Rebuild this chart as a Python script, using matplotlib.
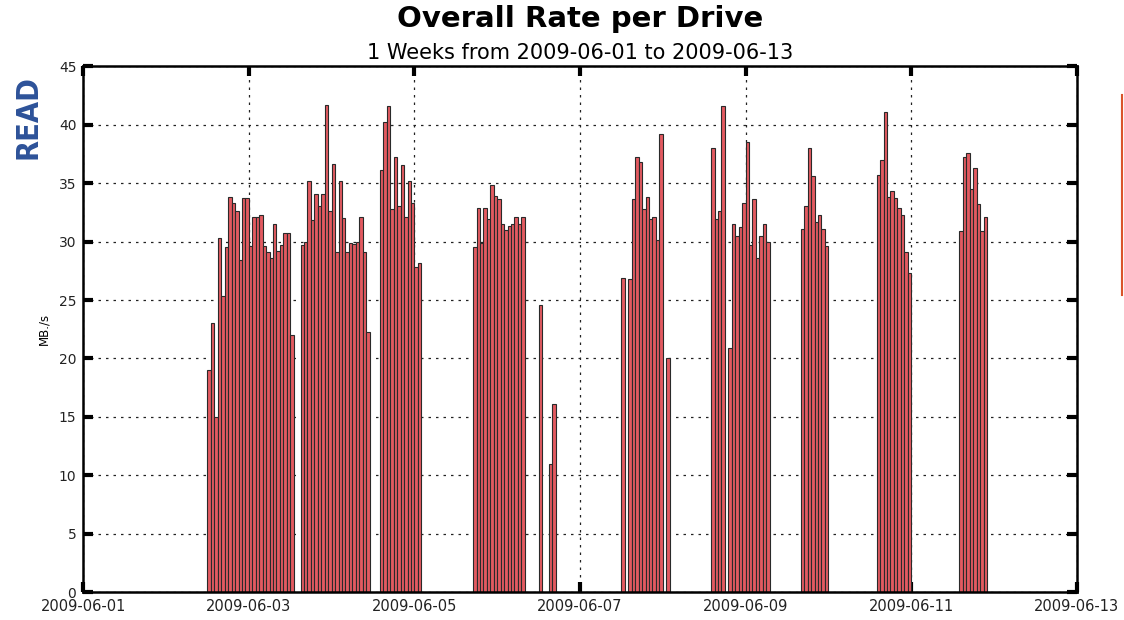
import numpy as np
import pandas as pd
import matplotlib
matplotlib.use("Agg")
import matplotlib.pyplot as plt
import matplotlib.dates as mdates
from matplotlib.lines import Line2D
from matplotlib import font_manager

# ---- data (hourly rates, MB/s); NaN = no data in that hour ----
nan = np.nan
group_starts = ['2009-06-02 12:00', '2009-06-03 15:00', '2009-06-04 14:00',
                '2009-06-05 17:00', '2009-06-06 12:00', '2009-06-07 12:00',
                '2009-06-08 14:00', '2009-06-09 16:00', '2009-06-10 14:00',
                '2009-06-11 14:00']
g1 = [19.0, 23.0, 15.0, 30.3, 25.3, 29.5, 33.8, 33.3, 32.6, 28.4, 33.7, 33.7, 29.6,
      32.1, 32.1, 32.3, 29.6, 29.1, 28.6, 31.5, 29.2, 29.7, 30.7, 30.7, 22.0]
g2 = [29.7, 30.0, 35.2, 31.8, 34.1, 33.0, 34.1, 41.7, 32.6, 36.6, 29.1, 35.2, 32.0,
      29.1, 29.9, 29.8, 30.0, 32.1, 29.1, 22.3]
g3 = [36.1, 40.2, 41.6, 32.8, 37.2, 33.0, 36.5, 32.1, 35.2, 33.3, 27.8, 28.2]
g4 = [29.5, 32.9, 29.9, 32.9, 31.9, 34.8, 33.9, 33.6, 31.5, 31.0, 31.3, 31.5, 32.1,
      31.5, 32.1]
g5 = [24.6, nan, nan, 11.0, 16.1]
g6 = [26.9, nan, 26.8, 33.6, 37.2, 36.8, 32.8, 33.8, 31.9, 32.1, 30.1, 39.2, nan, 20.0]
g7 = [38.0, 31.9, 32.6, 41.6, nan, 20.9, 31.5, 30.5, 31.2, 33.3, 38.5, 29.7, 33.6,
      28.6, 30.5, 31.5, 30.0]
g8 = [31.1, 33.0, 38.0, 35.6, 31.7, 32.3, 31.1, 29.6]
g9 = [35.7, 37.0, 41.1, 33.8, 34.3, 33.7, 32.9, 32.3, 29.1, 27.3]
g10 = [30.9, 37.2, 37.6, 34.5, 36.3, 33.2, 30.9, 32.1]
groups = [g1, g2, g3, g4, g5, g6, g7, g8, g9, g10]

x_start, x_end = '2009-06-01', '2009-06-13'
title = "Overall Rate per Drive"
subtitle = "1 Weeks from 2009-06-01 to 2009-06-13"
ylabel = "MB./s"
side_label = "READ"

# ---- assemble series ----
times, vals = [], []
for st, g in zip(group_starts, groups):
    t = pd.date_range(st, periods=len(g), freq='h')
    for ti, v in zip(t, g):
        if not np.isnan(v):
            times.append(ti.to_pydatetime())
            vals.append(v)

fig = plt.figure(figsize=(11.24, 6.2), dpi=100)
ax = fig.add_axes([0.0741, 0.0444, 0.8838, 0.8491])

ax.bar(times, vals, width=1/24, align='edge', color='#e35a60',
       edgecolor='#2a2a2a', linewidth=0.8, zorder=3)

ax.set_xlim(pd.Timestamp(x_start), pd.Timestamp(x_end))
ax.set_ylim(0, 45)
ax.set_yticks(np.arange(0, 46, 5))
ax.xaxis.set_major_locator(mdates.DayLocator(interval=2))
ax.xaxis.set_major_formatter(mdates.DateFormatter('%Y-%m-%d'))

ax.grid(True, which='major', color='#222222', linestyle=(0, (2, 4)), linewidth=0.9, zorder=1)
for s in ax.spines.values():
    s.set_linewidth(1.8)
    s.set_zorder(5)
ax.tick_params(axis='both', which='major', direction='in', length=7, width=3,
               top=True, right=True, colors='black', labelcolor='#222222')
ax.tick_params(axis='x', pad=5, labelsize=10.5)
ax.tick_params(axis='y', pad=5, labelsize=10)

ax.set_ylabel(ylabel, fontsize=8.5, labelpad=6)
fig.text(0.5165, 0.970, title, ha='center', va='center', fontsize=21, fontweight='bold')
fig.text(0.5165, 0.915, subtitle, ha='center', va='center', fontsize=15)

# condensed bold face for the side label if present
names = {f.name for f in font_manager.fontManager.ttflist}
side_kw = dict(fontweight='bold')
if 'Liberation Sans Narrow' in names:
    side_kw.update(family=['Liberation Sans Narrow', 'DejaVu Sans'], fontsize=28)
else:
    side_kw.update(family=['DejaVu Sans'], fontstretch='condensed', fontsize=22)
fig.text(0.025, 0.811, side_label, rotation=90, ha='center', va='center',
         color='#2d5299', **side_kw)

fig.add_artist(Line2D([0.9985, 0.9985], [1 - 95/620, 1 - 295/620], color='#d9542b',
                      linewidth=1.5, transform=fig.transFigure))

fig.savefig('out.png', dpi=100)
